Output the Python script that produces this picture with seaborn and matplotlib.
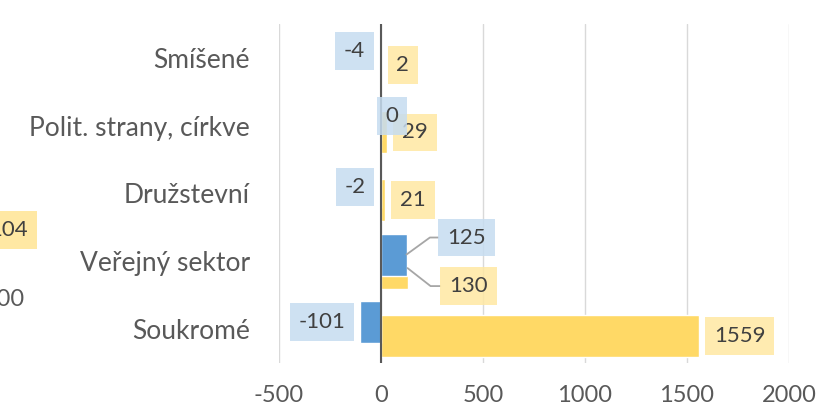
import matplotlib
matplotlib.use("Agg")
import matplotlib.pyplot as plt
import seaborn as sns
import numpy as np

# ========================================
# Data
# ========================================
categories = ["Smíšené", "Polit. strany, církve", "Družstevní", "Veřejný sektor", "Soukromé"]
blue_values = [-4, 0, -2, 125, -101]
yellow_values = [2, 29, 21, 130, 1559]
x_ticks = [-500, 0, 500, 1000, 1500, 2000]

# ========================================
# Style
# ========================================
sns.set_style("white")
plt.rcParams['font.family'] = ['Lato', 'DejaVu Sans']

blue_bar = '#5B9BD5'
yellow_bar = '#FFD966'
blue_box = '#C6DCF0'
yellow_box = '#FFE8A3'
text_dark = '#404040'
text_axis = '#595959'

bar_h = 0.62
shift = 0.1
label_fs = 16
label_pad = 0.4
gap_px = 15

fig = plt.figure(figsize=(8.18, 4.08), dpi=100)
ax = fig.add_axes([279 / 818, 1 - 363 / 408, 510 / 818, 339 / 408])

# yellow series first (lower, behind), blue on top (upper)
sns.barplot(x=yellow_values, y=categories, orient='h', color=yellow_bar,
            saturation=1, width=bar_h, ax=ax, zorder=2)
for p in ax.patches[:len(categories)]:
    p.set_y(p.get_y() + shift)
sns.barplot(x=blue_values, y=categories, orient='h', color=blue_bar,
            saturation=1, width=bar_h, ax=ax, zorder=3)
for p in ax.patches[len(categories):]:
    p.set_y(p.get_y() - shift)

ax.set_xlim(-500, 2000)
ax.set_ylim(len(categories) - 0.5, -0.5)
ax.set_xticks(x_ticks)
ax.set_xticklabels([str(t) for t in x_ticks])
ax.grid(axis='x', color='#D9D9D9', lw=1.0, zorder=0)
ax.grid(axis='y', visible=False)
ax.axvline(0, color=text_axis, lw=1.5, zorder=4)
for s in ax.spines.values():
    s.set_visible(False)
ax.tick_params(axis='y', length=0, pad=21, labelsize=19, labelcolor=text_axis)
ax.tick_params(axis='x', length=0, pad=16, labelsize=17, labelcolor=text_axis)
ax.set_xlabel('')
ax.set_ylabel('')

# manually moved labels: (series, index) -> (dx px, dy px, leader angle)
moved = {
    ('blue', 1): (11, 3, None),
    ('blue', 3): (60, 17, 36),
    ('yellow', 3): (61, -18, -38),
}


def add_labels(values, name, offset, box_color):
    for i, v in enumerate(values):
        y = i + offset
        key = (name, i)
        bbox = dict(boxstyle=f'square,pad={label_pad}', fc=box_color, ec='none', alpha=0.85)
        if key in moved:
            dx, dy, ang = moved[key]
            arrow = None
            if ang is not None:
                arrow = dict(arrowstyle='-', color='#A6A6A6', lw=1.3, shrinkA=0, shrinkB=0,
                             connectionstyle=f'angle,angleA=0,angleB={ang},rad=0')
            ax.annotate(str(v), xy=(v, y), xytext=(dx, dy), textcoords='offset pixels',
                        ha='center', va='center', fontsize=label_fs, color=text_dark,
                        bbox=bbox, arrowprops=arrow, zorder=6)
        else:
            sign = -1 if v < 0 else 1
            ax.annotate(str(v), xy=(v, y), xytext=(sign * gap_px, 0), textcoords='offset pixels',
                        ha='right' if v < 0 else 'left', va='center', fontsize=label_fs,
                        color=text_dark, bbox=bbox, zorder=6)


add_labels(yellow_values, 'yellow', shift, yellow_box)
add_labels(blue_values, 'blue', -shift, blue_box)

# fragments of the neighbouring chart at the left edge
fig.text(28 / 818, 1 - 230 / 408, "104", ha='right', va='center', fontsize=label_fs,
         color=text_dark, bbox=dict(boxstyle=f'square,pad={label_pad}', fc=yellow_box, ec='none'))
fig.text(25 / 818, 1 - 299 / 408, "200", ha='right', va='center', fontsize=17, color=text_axis)

plt.savefig('out.png', dpi=100)
